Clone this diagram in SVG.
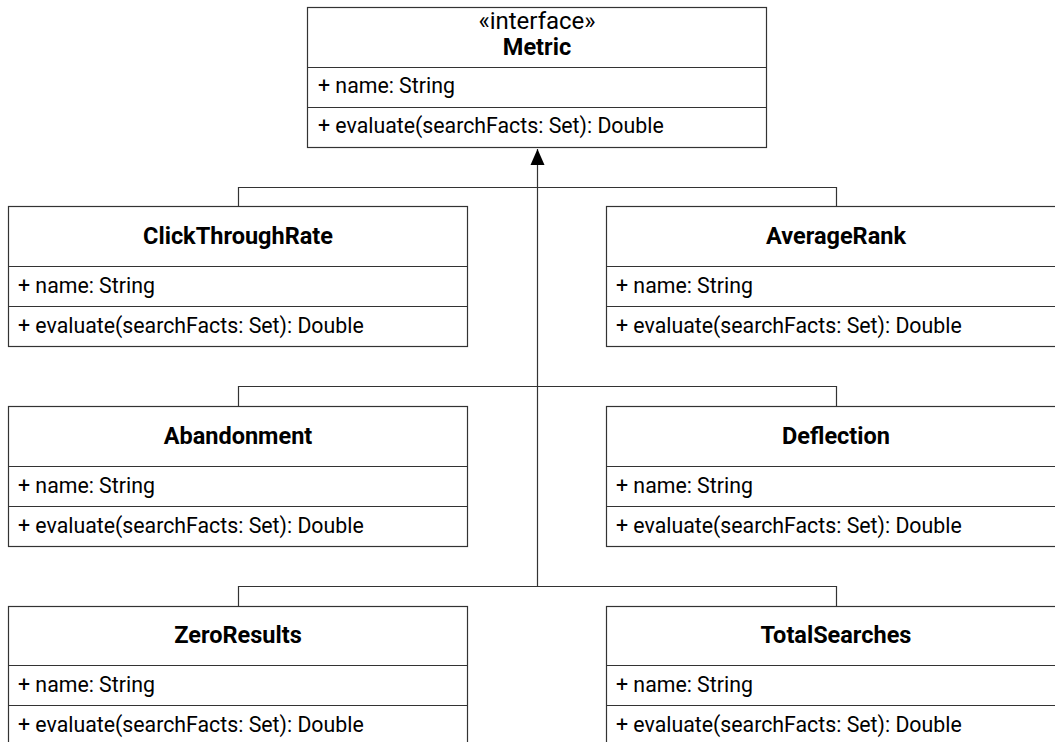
<svg xmlns="http://www.w3.org/2000/svg" width="1055" height="742" viewBox="0 0 1055 742">
  <style>
    .box { fill: #ffffff; stroke: #333333; stroke-width: 1.2; }
    .sep { stroke: #333333; stroke-width: 1.2; }
    .edge { fill: none; stroke: #333333; stroke-width: 1.2; }
    .title { font-family: Roboto, "Liberation Sans", sans-serif; font-size: 23.5px; font-weight: bold; fill: #000; text-anchor: middle; }
    .stereo { font-family: Roboto, "Liberation Sans", sans-serif; font-size: 24px; fill: #000; text-anchor: middle; }
    .member { font-family: Roboto, "Liberation Sans", sans-serif; font-size: 21.3px; fill: #000; }
  </style>
  <defs>
    <marker id="realize" viewBox="0 0 16 16" markerWidth="16" markerHeight="16" refX="16" refY="8" orient="auto" markerUnits="userSpaceOnUse">
      <path d="M0,1 L16,8 L0,15 Z" fill="#000"/>
    </marker>
  </defs>

  <rect width="1055" height="742" fill="#ffffff"/>

  <!-- inheritance connectors -->
  <g id="connectors">
    <path class="edge" d="M537.5,586.5 V149" marker-end="url(#realize)"/>
    <path class="edge" d="M238.5,206.5 V187.5 H836.5 V206.5"/>
    <path class="edge" d="M238.5,406.5 V386.5 H836.5 V406.5"/>
    <path class="edge" d="M238.5,606.5 V586.5 H836.5 V606.5"/>
  </g>

  <g id="Metric">
    <rect class="box" x="307.5" y="7.5" width="459" height="140"/>
    <line class="sep" x1="307.5" y1="67.5" x2="766.5" y2="67.5"/>
    <line class="sep" x1="307.5" y1="107.5" x2="766.5" y2="107.5"/>
    <text class="stereo" x="537" y="29">«interface»</text>
    <text class="title" x="537" y="55">Metric</text>
    <text class="member" x="318" y="93">+ name: String</text>
    <text class="member" x="318" y="133">+ evaluate(searchFacts: Set): Double</text>
  </g>

  <g id="ClickThroughRate">
    <rect class="box" x="8.5" y="206.5" width="459" height="140"/>
    <line class="sep" x1="8.5" y1="266.5" x2="467.5" y2="266.5"/>
    <line class="sep" x1="8.5" y1="306.5" x2="467.5" y2="306.5"/>
    <text class="title" x="238" y="244">ClickThroughRate</text>
    <text class="member" x="18" y="293">+ name: String</text>
    <text class="member" x="18" y="333">+ evaluate(searchFacts: Set): Double</text>
  </g>

  <g id="AverageRank">
    <rect class="box" x="606.5" y="206.5" width="460" height="140"/>
    <line class="sep" x1="606.5" y1="266.5" x2="1066" y2="266.5"/>
    <line class="sep" x1="606.5" y1="306.5" x2="1066" y2="306.5"/>
    <text class="title" x="836" y="244">AverageRank</text>
    <text class="member" x="616" y="293">+ name: String</text>
    <text class="member" x="616" y="333">+ evaluate(searchFacts: Set): Double</text>
  </g>

  <g id="Abandonment">
    <rect class="box" x="8.5" y="406.5" width="459" height="140"/>
    <line class="sep" x1="8.5" y1="466.5" x2="467.5" y2="466.5"/>
    <line class="sep" x1="8.5" y1="506.5" x2="467.5" y2="506.5"/>
    <text class="title" x="238" y="444">Abandonment</text>
    <text class="member" x="18" y="493">+ name: String</text>
    <text class="member" x="18" y="533">+ evaluate(searchFacts: Set): Double</text>
  </g>

  <g id="Deflection">
    <rect class="box" x="606.5" y="406.5" width="460" height="140"/>
    <line class="sep" x1="606.5" y1="466.5" x2="1066" y2="466.5"/>
    <line class="sep" x1="606.5" y1="506.5" x2="1066" y2="506.5"/>
    <text class="title" x="836" y="444">Deflection</text>
    <text class="member" x="616" y="493">+ name: String</text>
    <text class="member" x="616" y="533">+ evaluate(searchFacts: Set): Double</text>
  </g>

  <g id="ZeroResults">
    <rect class="box" x="8.5" y="606.5" width="459" height="140"/>
    <line class="sep" x1="8.5" y1="665.5" x2="467.5" y2="665.5"/>
    <line class="sep" x1="8.5" y1="705.5" x2="467.5" y2="705.5"/>
    <text class="title" x="238" y="643">ZeroResults</text>
    <text class="member" x="18" y="692">+ name: String</text>
    <text class="member" x="18" y="732">+ evaluate(searchFacts: Set): Double</text>
  </g>

  <g id="TotalSearches">
    <rect class="box" x="606.5" y="606.5" width="460" height="140"/>
    <line class="sep" x1="606.5" y1="665.5" x2="1066" y2="665.5"/>
    <line class="sep" x1="606.5" y1="705.5" x2="1066" y2="705.5"/>
    <text class="title" x="836" y="643">TotalSearches</text>
    <text class="member" x="616" y="692">+ name: String</text>
    <text class="member" x="616" y="732">+ evaluate(searchFacts: Set): Double</text>
  </g>
</svg>
